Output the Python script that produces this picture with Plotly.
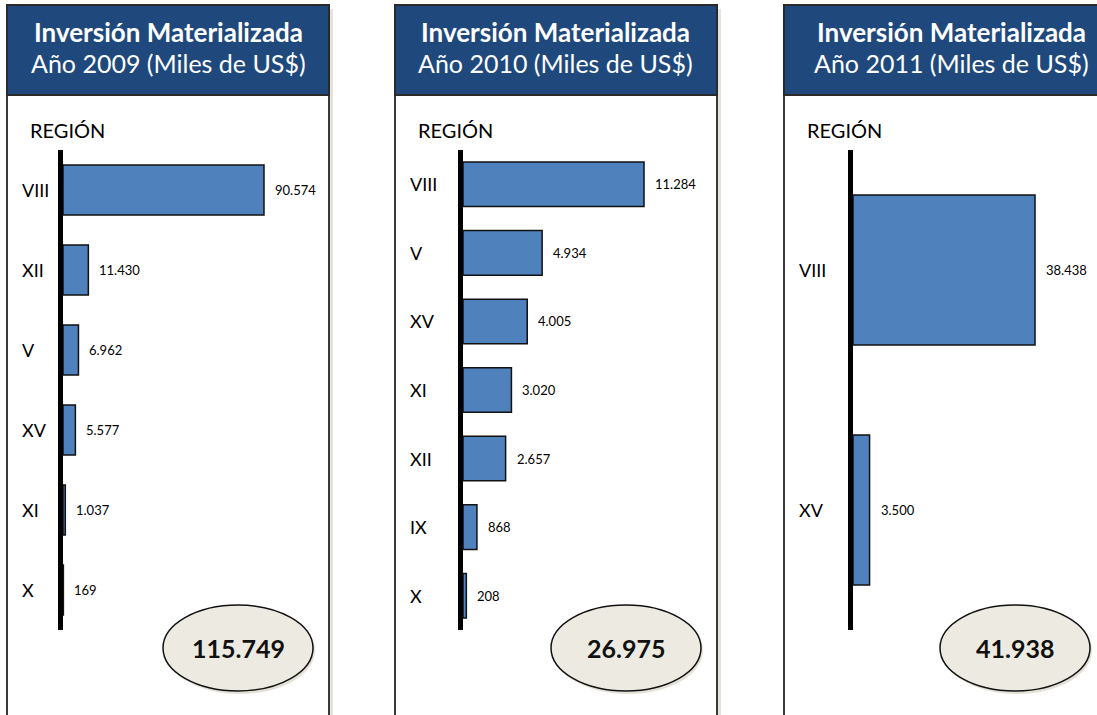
import plotly.graph_objects as go

W, H = 1097, 715

# ---- data ----
years = ["2009", "2010", "2011"]
regions_2009 = ["VIII", "XII", "V", "XV", "XI", "X"]
values_2009 = [90574, 11430, 6962, 5577, 1037, 169]
regions_2010 = ["VIII", "V", "XV", "XI", "XII", "IX", "X"]
values_2010 = [11284, 4934, 4005, 3020, 2657, 868, 208]
regions_2011 = ["VIII", "XV"]
values_2011 = [38438, 3500]
totals = [115749, 26975, 41938]

panels = [
    dict(regions=regions_2009, values=values_2009, box=(7, 329), plot=(63, 325), rng=118070, width=0.625),
    dict(regions=regions_2010, values=values_2010, box=(395, 717), plot=(463, 713), rng=15586, width=0.65),
    dict(regions=regions_2011, values=values_2011, box=(784, 1103), plot=(853, 1097), rng=51531, width=0.625),
]

FONT = "Lato"
BAR_COLOR = "#4F81BD"
HEAD_COLOR = "#1F497D"


def fmt(v):
    return f"{v:,}".replace(",", ".")


def px(x):
    return x / W


def py(y):
    return 1 - y / H


fig = go.Figure()
shapes = []
annotations = []
layout = {}

for k, (p, year, total) in enumerate(zip(panels, years, totals)):
    sfx = "" if k == 0 else str(k + 1)
    xa, ya = "x" + sfx, "y" + sfx
    fig.add_trace(go.Bar(
        x=p["values"], y=list(range(len(p["regions"]))), orientation="h",
        width=p["width"],
        marker=dict(color=BAR_COLOR, line=dict(color="#111111", width=1.5)),
        xaxis=xa, yaxis=ya, showlegend=False, hoverinfo="skip",
    ))
    n = len(p["regions"])
    layout["xaxis" + sfx] = dict(
        domain=[px(p["plot"][0]), min(1, px(p["plot"][1]))], range=[0, p["rng"]],
        visible=False, anchor=ya, fixedrange=True,
    )
    layout["yaxis" + sfx] = dict(
        domain=[py(630), py(150)], range=[n - 0.5, -0.5],
        showline=True, linewidth=5, linecolor="black", showticklabels=False,
        showgrid=False, zeroline=False, ticks="", anchor=xa, fixedrange=True,
    )
    bl, br = p["box"]
    # shadow
    shapes.append(dict(type="rect", xref="paper", yref="paper", x0=px(br), x1=px(br + 4),
                       y0=py(716), y1=py(9), fillcolor="#E6E4DA", line=dict(width=0), layer="below"))
    # panel border
    shapes.append(dict(type="rect", xref="paper", yref="paper", x0=px(bl), x1=px(br),
                       y0=py(716), y1=py(5), fillcolor="white", line=dict(color="#3A3A3A", width=2),
                       layer="below"))
    # header
    shapes.append(dict(type="rect", xref="paper", yref="paper", x0=px(bl), x1=px(br),
                       y0=py(95), y1=py(5), fillcolor=HEAD_COLOR, line=dict(color="#2A2A2A", width=2),
                       layer="below"))
    cx = (bl + br) / 2
    if k == 2:
        cx = 951
    annotations.append(dict(xref="paper", yref="paper", x=px(cx), y=py(32), showarrow=False,
                            xanchor="center", yanchor="middle",
                            text="<b>Inversión Materializada</b>",
                            font=dict(family=FONT, size=26, color="white")))
    annotations.append(dict(xref="paper", yref="paper", x=px(cx), y=py(63), showarrow=False,
                            xanchor="center", yanchor="middle",
                            text=f"Año {year} (Miles de US$)",
                            font=dict(family=FONT, size=25, color="white")))
    annotations.append(dict(xref="paper", yref="paper", x=px(bl + 21), y=py(130), showarrow=False,
                            xanchor="left", yanchor="middle", text="REGIÓN",
                            font=dict(family=FONT, size=20, color="black")))
    for i, (r, v) in enumerate(zip(p["regions"], p["values"])):
        annotations.append(dict(xref="paper", yref=ya, x=px(bl + 13), y=i, showarrow=False,
                                xanchor="left", yanchor="middle", text=r,
                                font=dict(family=FONT, size=18, color="black")))
        annotations.append(dict(xref=xa, yref=ya, x=v, y=i, showarrow=False, xanchor="left",
                                yanchor="middle", xshift=9, text=fmt(v),
                                font=dict(family=FONT, size=13, color="black")))
    # total ellipse
    ex = bl + 231
    shapes.append(dict(type="circle", xref="paper", yref="paper", x0=px(ex - 73), x1=px(ex + 77),
                       y0=py(694), y1=py(607), fillcolor="#E4E2D8", line=dict(width=0), layer="above"))
    shapes.append(dict(type="circle", xref="paper", yref="paper", x0=px(ex - 75), x1=px(ex + 75),
                       y0=py(691), y1=py(605), fillcolor="#EDEBE1", line=dict(color="#111111", width=1.5),
                       layer="above"))
    annotations.append(dict(xref="paper", yref="paper", x=px(ex), y=py(648), showarrow=False,
                            xanchor="center", yanchor="middle",
                            text=f"<b>{fmt(total)}</b>",
                            font=dict(family=FONT, size=25, color="#111111")))

fig.update_layout(
    width=W, height=H, margin=dict(l=0, r=0, t=0, b=0),
    paper_bgcolor="white", plot_bgcolor="rgba(0,0,0,0)",
    shapes=shapes, annotations=annotations, **layout,
)

fig.write_html(
    "out.html",
    config={"displayModeBar": False},
    post_script="document.body.style.margin='0';document.body.style.overflow='hidden';",
)
